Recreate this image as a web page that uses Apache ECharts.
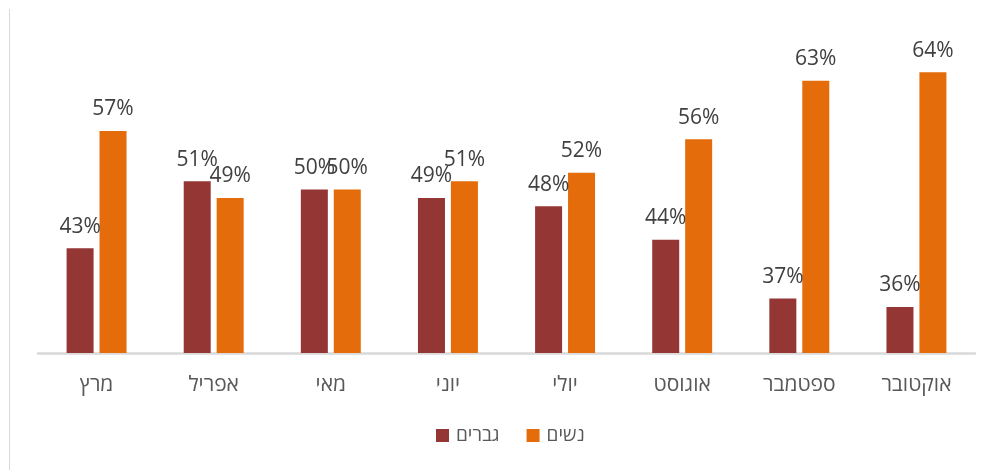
<!DOCTYPE html>
<html>
<head>
<meta charset="utf-8">
<script src="https://cdn.jsdelivr.net/npm/echarts@6/dist/echarts.min.js"></script>
<style>
  html, body { margin: 0; padding: 0; background: #fff; }
  #chart { width: 990px; height: 470px; }
</style>
</head>
<body>
<div id="chart"></div>
<script>
// Monthly share by gender
const months = ['מרץ', 'אפריל', 'מאי', 'יוני', 'יולי', 'אוגוסט', 'ספטמבר', 'אוקטובר'];
const men = [43, 51, 50, 49, 48, 44, 37, 36];
const women = [57, 49, 50, 51, 52, 56, 63, 64];
const seriesNames = ['גברים', 'נשים'];

const fontFamily = '"Open Sans", "Liberation Sans", sans-serif';

const labelStyle = {
  show: true,
  position: 'top',
  distance: 11,
  formatter: '{c}%',
  color: '#404040',
  fontSize: 21,
  fontFamily: fontFamily
};

const chart = echarts.init(document.getElementById('chart'));
chart.setOption({
  animation: false,
  backgroundColor: '#ffffff',
  grid: { left: 38, right: 15, top: 22, bottom: 117, containLabel: false },
  legend: {
    data: seriesNames,
    bottom: 20,
    left: 431,
    itemWidth: 13,
    itemHeight: 13,
    itemGap: 27,
    icon: 'rect',
    textStyle: { color: '#595959', fontSize: 19, fontFamily: fontFamily, padding: [0, 0, 0, 2] }
  },
  xAxis: {
    type: 'category',
    data: months,
    axisLine: { show: true, lineStyle: { color: '#D9D9D9', width: 2.5 } },
    axisTick: { show: false },
    axisLabel: { color: '#595959', fontSize: 21, fontFamily: fontFamily, margin: 22 }
  },
  yAxis: {
    type: 'value',
    min: 30.5,
    max: 70,
    show: false,
    splitLine: { show: false }
  },
  series: [
    {
      name: seriesNames[0],
      type: 'bar',
      data: men,
      barWidth: 27,
      barGap: '22%',
      itemStyle: { color: '#943634' },
      label: labelStyle
    },
    {
      name: seriesNames[1],
      type: 'bar',
      data: women,
      barWidth: 27,
      barGap: '22%',
      itemStyle: { color: '#E46C0A' },
      label: labelStyle
    }
  ],
  graphic: [
    {
      type: 'line',
      shape: { x1: 9.5, y1: 9, x2: 9.5, y2: 470 },
      style: { stroke: '#D9D9D9', lineWidth: 1 }
    }
  ]
});
</script>
</body>
</html>
